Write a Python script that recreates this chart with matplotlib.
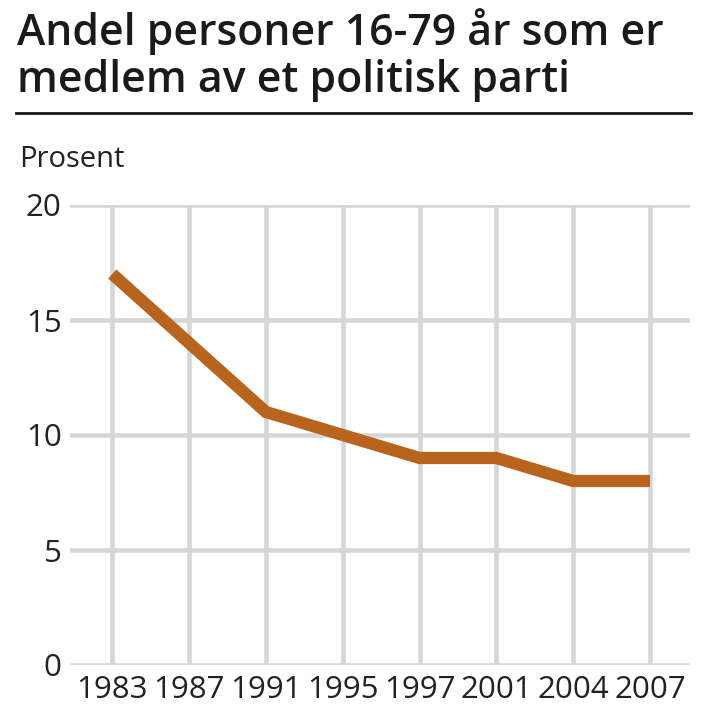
import matplotlib.pyplot as plt
from matplotlib.lines import Line2D

years = ['1983', '1987', '1991', '1995', '1997', '2001', '2004', '2007']
share = [17, 14, 11, 10, 9, 9, 8, 8]
yticks = [0, 5, 10, 15, 20]

plt.rcParams['font.family'] = ['Open Sans', 'DejaVu Sans']

fig = plt.figure(figsize=(7.06, 7.28), dpi=100)
ax = fig.add_axes([70 / 706, 1 - 665 / 728, 620 / 706, 460 / 728])

x = list(range(len(years)))
ax.plot(x, share, color='#b8631e', lw=8.8, solid_joinstyle='miter', solid_capstyle='butt', zorder=3)

ax.set_xlim(-0.55, len(years) - 0.48)
ax.set_ylim(0, 20)
ax.set_xticks(x)
ax.set_xticklabels(years)
ax.set_yticks(yticks)
ax.grid(True, color='#d6d6d6', lw=3.3)
ax.set_axisbelow(True)
for s in ax.spines.values():
    s.set_visible(False)
ax.tick_params(length=0, labelsize=22.5, colors='#222222')
ax.tick_params(axis='y', pad=6)
ax.tick_params(axis='x', pad=7)

fig.text(17 / 706, 1 - 45 / 728, 'Andel personer 16-79 år som er', fontsize=30.8,
         fontweight='semibold', color='#1a1a1a', va='baseline')
fig.text(17 / 706, 1 - 92 / 728, 'medlem av et politisk parti', fontsize=30.8,
         fontweight='semibold', color='#1a1a1a', va='baseline')
fig.add_artist(Line2D([16 / 706, 691 / 706], [1 - 113 / 728, 1 - 113 / 728],
                      color='#1a1a1a', lw=2))
fig.text(19 / 706, 1 - 167 / 728, 'Prosent', fontsize=21, color='#222222', va='baseline')

fig.savefig('out.png', dpi=100)
